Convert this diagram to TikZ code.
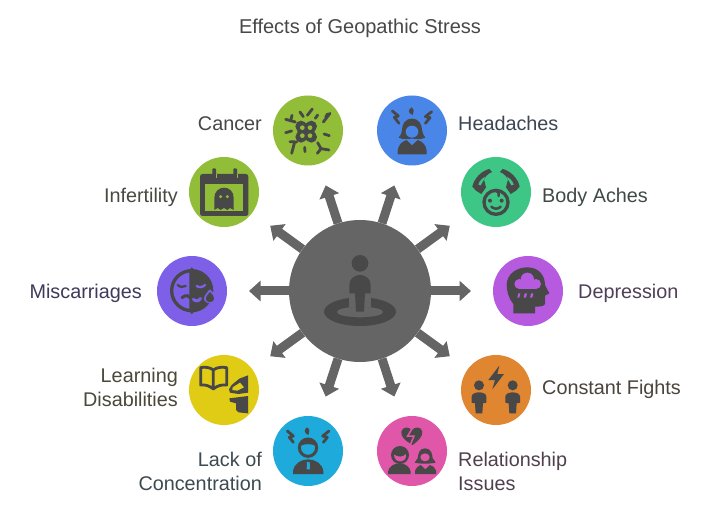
\documentclass[tikz,border=0pt]{standalone}
\usepackage{fontspec}
\setmainfont{Liberation Sans}
\usetikzlibrary{arrows.meta,calc}
\definecolor{icn}{HTML}{484848}
\definecolor{hubc}{HTML}{656565}
\definecolor{cgreen}{HTML}{92BD39}
\definecolor{cblue}{HTML}{4A86E8}
\definecolor{cteal}{HTML}{3DC686}
\definecolor{cpurple}{HTML}{B65AE0}
\definecolor{corange}{HTML}{E08530}
\definecolor{cpink}{HTML}{E056A8}
\definecolor{ccyan}{HTML}{1EAADB}
\definecolor{cyellow}{HTML}{E0CB15}
\definecolor{cviolet}{HTML}{7E5FE8}
\tikzset{
  blob/.style={circle,fill=#1,minimum size=70pt,inner sep=0pt,draw=none},
  lab/.style={inner sep=0pt,font=\fontsize{19.8}{24}\selectfont,text={rgb,255:red,#1}},
  spoke/.style={draw=hubc,line width=9pt,-{Triangle[length=11.5pt,width=20pt]}},
  zoomat/.style 2 args={shift={(#1,#2)},x=0.33333pt,y=-0.33333pt},
  ray/.style={draw=icn,line width=2.8pt,line cap=round,line join=round},
  bolt/.style={draw=icn,line width=2.8pt,line join=round,line cap=round}
}
\begin{document}
\begin{tikzpicture}[x=1pt,y=-1pt]
\useasboundingbox (0,0) rectangle (720,521);
\fill[white] (0,0) rectangle (720,521);
\node[inner sep=0pt,anchor=base,font=\fontsize{20}{24}\selectfont,text={rgb,255:red,72;green,72;blue,72}] (title) at (360,34) {Effects of Geopathic Stress};
% hub and spokes
\node[circle,fill=hubc,minimum size=142pt,inner sep=0pt] (hub) at (360,291) {};
\foreach \a in {0,36,72,108,144,180,216,252,288,324}{
  \coordinate (tip\a) at ($(360,291)+(\a:111)$);
  \draw[spoke] (hub) -- (tip\a);
}
% hub icon
\begin{scope}[zoomat={240}{180}]
  \fill[icn,even odd rule] (360,395) ellipse [x radius=108,y radius=43] (360,396) ellipse [x radius=70,y radius=16];
  \fill[hubc] (327,340) rectangle (393,381);
  \fill[icn] (360,250) circle [radius=25];
  \fill[icn] (328,340) -- (328,315) .. controls (328,295) and (345,285) .. (360,285) .. controls (375,285) and (392,295) .. (392,315) -- (392,340) -- (375,340) -- (372,395) -- (348,395) -- (345,340) -- cycle;
\end{scope}
% circles
\node[blob=cgreen]  (cancer)  at (308,130.5) {};
\node[blob=cblue]   (head)    at (412,130.5) {};
\node[blob=cteal]   (body)    at (496,192) {};
\node[blob=cpurple] (depr)    at (528,291) {};
\node[blob=corange] (fights)  at (496,390) {};
\node[blob=cpink]   (rel)     at (412,451) {};
\node[blob=ccyan]   (lack)    at (308,451) {};
\node[blob=cyellow] (learn)   at (224,390) {};
\node[blob=cviolet] (misc)    at (192,291) {};
\node[blob=cgreen]  (infert)  at (224,192) {};
% labels
\node[lab={70;green,72;blue,72},anchor=base east] (tcancer) at (262,130.6) {Cancer};
\node[lab={61;green,70;blue,84},anchor=base west] (thead) at (458,130.6) {Headaches};
\node[lab={63;green,74;blue,69},anchor=base west] (tbody) at (542,202.6) {Body Aches};
\node[lab={79;green,63;blue,88},anchor=base west] (tdepr) at (578,298.6) {Depression};
\node[lab={74;green,68;blue,60},anchor=base west] (tfights) at (542,394.6) {Constant Fights};
\node[lab={80;green,64;blue,78},anchor=base west] (trel) at (458,466.6) {Relationship};
\node[lab={80;green,64;blue,78},anchor=base west] (trel2) at (458,490.6) {Issues};
\node[lab={61;green,74;blue,80},anchor=base east] (tlack) at (262,466.6) {Lack of};
\node[lab={61;green,74;blue,80},anchor=base east] (tlack2) at (262,490.6) {Concentration};
\node[lab={74;green,72;blue,56},anchor=base east] (tlearn) at (178,382.6) {Learning};
\node[lab={74;green,72;blue,56},anchor=base east] (tlearn2) at (178,406.6) {Disabilities};
\node[lab={63;green,58;blue,90},anchor=base east] (tmisc) at (142,298.6) {Miscarriages};
\node[lab={71;green,74;blue,64},anchor=base east] (tinf) at (178,202.6) {Infertility};
% cancer icon
\begin{scope}[zoomat={270}{90}]
  \fill[icn] (108,125) circle [radius=26];
  \fill[icn] (93,109) circle [radius=17];
  \fill[icn] (124,109) circle [radius=17];
  \fill[icn] (93,141) circle [radius=17];
  \fill[icn] (124,141) circle [radius=17];
  \fill[cgreen] (97,113) circle [radius=7];
  \fill[cgreen] (120,113) circle [radius=7];
  \fill[cgreen] (97,137) circle [radius=7];
  \fill[cgreen] (120,137) circle [radius=7];
  \draw[ray] (90,66)--(100,80);
  \draw[ray] (127,57)--(112,76);
  \draw[ray] (143,75)--(136,85);
  \draw[ray] (180,70)--(160,96) (167,82)--(172,72);
  \draw[ray] (47,88)--(76,96) (62,92)--(66,76);
  \draw[ray] (47,128)--(65,123);
  \draw[ray] (162,132)--(178,137);
  \draw[ray] (60,155)--(80,156) (74,156)--(65,190);
  \draw[ray] (104,172)--(105,185);
  \draw[ray] (143,158)--(153,176) (153,176)--(177,180) (153,176)--(142,190);
\end{scope}
% headache icon
\begin{scope}[zoomat={270}{90}]
  \draw[bolt] (367,63)--(385,78)--(373,82)--(387,100);
  \draw[bolt] (485,65)--(466,80)--(480,83)--(466,100);
  \fill[icn] (425,52) .. controls (435,60) and (430,65) .. (428,75) .. controls (415,70) and (412,60) .. (425,52) -- cycle;
  \fill[icn] (426,86) .. controls (448,86) and (456,105) .. (456,120) .. controls (456,130) and (462,135) .. (466,143) .. controls (450,150) and (440,146) .. (426,146) .. controls (412,146) and (400,150) .. (386,143) .. controls (392,135) and (396,130) .. (396,120) .. controls (396,105) and (404,86) .. (426,86) -- cycle;
  \fill[cblue] (426,125) ellipse [x radius=19,y radius=18];
  \fill[icn] (383,193) -- (383,182) .. controls (385,165) and (395,155) .. (410,150) -- (426,166) -- (443,150) .. controls (458,155) and (468,165) .. (470,182) -- (470,193) -- cycle;
\end{scope}
% body aches icon
\begin{scope}[zoomat={450}{150}]
  \fill[icn] (67,110) .. controls (72,85) and (95,62) .. (118,57) -- (126,66) .. controls (112,72) and (106,80) .. (102,88) -- (108,112) -- (94,132) -- (78,122) -- cycle;
  \fill[icn] (209,110) .. controls (204,85) and (181,62) .. (158,57) -- (150,66) .. controls (164,72) and (170,80) .. (174,88) -- (168,112) -- (182,132) -- (198,122) -- cycle;
  \fill[cteal] (85,104) .. controls (88,92) and (98,84) .. (106,80) -- (100,92) -- (92,106) -- cycle;
  \fill[cteal] (191,104) .. controls (188,92) and (178,84) .. (170,80) -- (176,92) -- (184,106) -- cycle;
  \fill[cteal] (138,157) circle [radius=48];
  \draw[icn,line width=3.3pt] (138,157) circle [radius=36];
  \fill[icn] (120,152) circle [radius=6];
  \fill[icn] (155,152) circle [radius=6];
  \draw[icn,line width=2.5pt,line cap=round] (124,170) .. controls (132,178) and (145,178) .. (152,170);
  \draw[icn,line width=2.5pt,line cap=round] (135,122) .. controls (145,125) and (150,130) .. (146,138);
\end{scope}
% depression icon
\begin{scope}[zoomat={450}{150}]
  \fill[icn] (190,490) -- (190,462) .. controls (175,445) and (170,420) .. (170,405) .. controls (170,372) and (200,352) .. (232,352) .. controls (265,352) and (285,375) .. (285,405) -- (298,430) -- (285,437) -- (285,460) .. controls (285,468) and (275,470) .. (255,470) -- (255,490) -- cycle;
  \fill[cpurple] (232,388) circle [radius=20];
  \fill[cpurple] (208,402) circle [radius=15];
  \fill[cpurple] (258,402) circle [radius=15];
  \fill[cpurple] (208,396) rectangle (258,417);
  \fill[cpurple] (205,430) -- (211,430) -- (208,443) -- (202,443) -- cycle;
  \fill[cpurple] (224,430) -- (231,430) -- (228,443) -- (221,443) -- cycle;
  \fill[cpurple] (243,430) -- (250,430) -- (247,443) -- (240,443) -- cycle;
\end{scope}
% fights icon
\begin{scope}[zoomat={370}{350}]
  \fill[icn] (388,47) -- (355,90) -- (375,90) -- (367,118) -- (402,72) -- (382,72) -- cycle;
  \foreach \c in {327,428}{
    \fill[icn] (\c,106) circle [radius=15];
    \fill[icn] (\c-22,158) -- (\c-22,140) .. controls (\c-22,132) and (\c-12,127) .. (\c,127) .. controls (\c+12,127) and (\c+22,132) .. (\c+22,140) -- (\c+22,158) -- (\c+12,160) -- (\c+10,190) -- (\c-10,190) -- (\c-12,160) -- cycle;
  }
\end{scope}
% relationship icon
\begin{scope}[zoomat={370}{350}]
  \fill[icn] (128,285) .. controls (105,272) and (92,260) .. (94,245) .. controls (97,230) and (118,228) .. (125,242) .. controls (133,228) and (155,230) .. (157,245) .. controls (158,260) and (145,272) .. (128,285) -- cycle;
  \draw[cpink,line width=1.5pt] (125,238) -- (113,258) -- (132,258) -- (122,282);
  \fill[icn] (90,315) circle [radius=27];
  \fill[cpink] (72,314) .. controls (85,322) and (98,322) .. (108,312) .. controls (110,328) and (100,334) .. (90,334) .. controls (80,334) and (72,326) .. (72,314) -- cycle;
  \fill[icn] (54,372) -- (54,365) .. controls (56,350) and (72,340) .. (88,340) .. controls (105,340) and (120,350) .. (122,365) -- (122,372) -- cycle;
  \fill[icn] (165,295) .. controls (185,295) and (187,315) .. (188,325) .. controls (190,330) and (196,332) .. (197,338) .. controls (180,342) and (150,342) .. (134,338) .. controls (135,332) and (142,330) .. (143,325) .. controls (144,312) and (148,295) .. (165,295) -- cycle;
  \fill[cpink] (165,322) ellipse [x radius=14,y radius=12];
  \fill[icn] (135,372) -- (135,362) .. controls (138,352) and (145,348) .. (152,345) -- (166,358) -- (180,345) .. controls (188,348) and (196,352) .. (198,362) -- (198,372) -- cycle;
\end{scope}
% lack icon
\begin{scope}[zoomat={180}{350}]
  \draw[bolt] (322,243)--(340,258)--(328,262)--(340,277);
  \draw[bolt] (447,243)--(428,258)--(442,262)--(430,277);
  \fill[icn] (381,232) .. controls (391,238) and (388,245) .. (385,255) .. controls (373,250) and (370,240) .. (381,232) -- cycle;
  \draw[icn,line width=3pt] (384,293) circle [radius=26];
  \fill[icn] (362,287) .. controls (375,281) and (395,281) .. (406,287) -- (402,275) -- (384,268) -- (366,275) -- cycle;
  \fill[icn] (339,372) -- (339,364) .. controls (342,340) and (365,328) .. (384,328) .. controls (405,328) and (427,340) .. (430,364) -- (430,372) -- cycle;
  \fill[ccyan] (381,336) -- (389,336) -- (390,358) -- (380,358) -- cycle;
\end{scope}
% learning icon
\begin{scope}[zoomat={180}{350}]
  \draw[icn,line width=2.8pt,line join=round] (100,60) .. controls (90,52) and (75,50) .. (62,53) -- (62,105) .. controls (75,103) and (90,108) .. (100,117) .. controls (110,108) and (125,103) .. (140,105) -- (140,53) .. controls (125,50) and (110,52) .. (100,60) -- cycle (100,60) -- (100,117);
  \fill[icn] (204,76) -- (178,86) -- (155,105) -- (147,118) -- (150,128) -- (175,132) -- (204,128) -- cycle;
  \fill[cyellow] (180,98) -- (158,112) -- (157,120) -- (172,122) -- (192,112) -- cycle;
  \fill[icn] (148,145) -- (204,138) -- (204,190) -- (175,187) -- (168,180) -- (168,160) -- (150,155) -- cycle;
\end{scope}
% infertility icon
\begin{scope}[zoomat={150}{150}]
  \fill[icn,rounded corners=2.5pt] (150,72) rectangle (295,198);
  \fill[icn,rounded corners=1pt] (187,55) rectangle (198,85);
  \fill[icn,rounded corners=1pt] (250,55) rectangle (261,85);
  \fill[cgreen] (165,102) rectangle (280,182);
  \fill[cgreen] (198,72) rectangle (202,85);
  \fill[cgreen] (261,72) rectangle (265,85);
  \fill[icn] (193,180) -- (193,143) .. controls (193,125) and (207,113) .. (222,113) .. controls (238,113) and (251,125) .. (251,143) -- (251,180) -- (240,174) -- (232,180) -- (222,174) -- (212,180) -- (203,174) -- cycle;
  \fill[cgreen] (212,140) circle [radius=5];
  \fill[cgreen] (232,140) circle [radius=5];
\end{scope}
% miscarriage icon
\begin{scope}[zoomat={150}{150}]
  \draw[icn,line width=3.3pt] (125,422) circle [radius=60];
  \fill[icn] (125,352) -- (135,362) .. controls (170,370) and (188,395) .. (188,422) .. controls (188,450) and (170,475) .. (135,482) -- (125,493) -- (118,482) -- (118,362) -- cycle;
  \draw[icn,line width=2.3pt,line cap=round] (83,405) .. controls (90,412) and (100,412) .. (107,408);
  \draw[cviolet,line width=2.3pt,line cap=round] (140,408) .. controls (148,414) and (158,412) .. (165,405);
  \draw[icn,line width=3pt,line cap=round] (96,443) .. controls (108,432) and (118,438) .. (123,445);
  \draw[cviolet,line width=3pt,line cap=round] (130,448) .. controls (137,454) and (145,455) .. (152,445);
  \fill[cviolet] (180,418) .. controls (195,432) and (200,442) .. (198,448) .. controls (195,462) and (170,465) .. (162,450) .. controls (160,440) and (170,428) .. (180,418) -- cycle;
  \fill[icn] (180,426) .. controls (190,436) and (193,442) .. (192,447) .. controls (190,458) and (172,460) .. (168,449) .. controls (166,442) and (173,434) .. (180,426) -- cycle;
\end{scope}
\end{tikzpicture}
\end{document}
